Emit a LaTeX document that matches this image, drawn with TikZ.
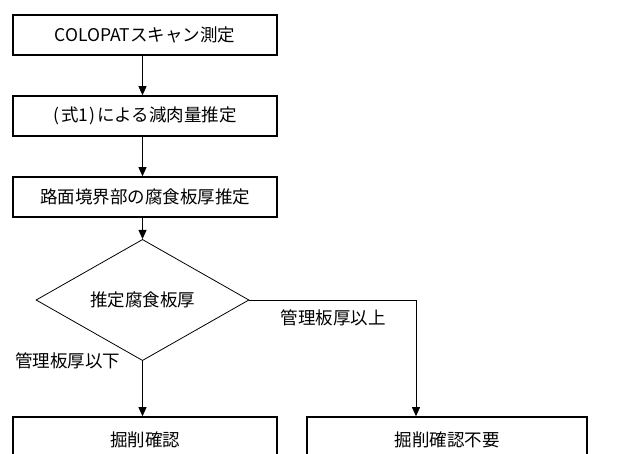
\documentclass[tikz,border=0pt]{standalone}
\usepackage{fontspec}
\setmainfont{Noto Sans CJK JP}
\usetikzlibrary{shapes.geometric,arrows.meta}
\begin{document}
\begin{tikzpicture}[x=1pt,y=-1pt,
  every node/.style={font=\fontsize{17.5}{20}\selectfont},
  procbox/.style={draw,line width=1.6pt,minimum width=264pt,minimum height=40pt,inner sep=0pt},
  endbox/.style={draw,line width=1.6pt,minimum height=46pt,inner sep=0pt},
  decision/.style={draw,diamond,line width=0.8pt,minimum width=213pt,minimum height=102pt,inner sep=0pt},
  flow/.style={line width=0.8pt,-{Triangle[length=9pt,width=8pt]}},
  lbl/.style={inner sep=0pt}]
\useasboundingbox (0,0) rectangle (621,453);
\clip (0,0) rectangle (621,453);
\node[procbox] (b1) at (145,35) {COLOPATスキャン測定};
\node[procbox] (b2) at (145,116) {(\hspace{2pt}式1\hspace{1pt})\hspace{2pt}による減肉量推定};
\node[procbox] (b3) at (145,197) {路面境界部の腐食板厚推定};
\node[decision] (d) at (142.5,300) {推定腐食板厚};
\node[endbox,minimum width=264pt] (b4) at (145,440) {掘削確認};
\node[endbox,minimum width=280pt] (b5) at (447,440) {掘削確認不要};
\coordinate (turn) at (416,300);
\draw[flow] (b1.south -| d.center) -- (b2.north -| d.center);
\draw[flow] (b2.south -| d.center) -- (b3.north -| d.center);
\draw[flow] (b3.south -| d.center) -- (d.north);
\draw[flow] (d.south) -- (b4.north -| d.center);
\draw[flow] (d.east) -- (turn) -- (turn |- b5.north);
\node[lbl] (up) at (333,318) {管理板厚以上};
\node[lbl] (dn) at (68,361) {管理板厚以下};
\end{tikzpicture}
\end{document}
